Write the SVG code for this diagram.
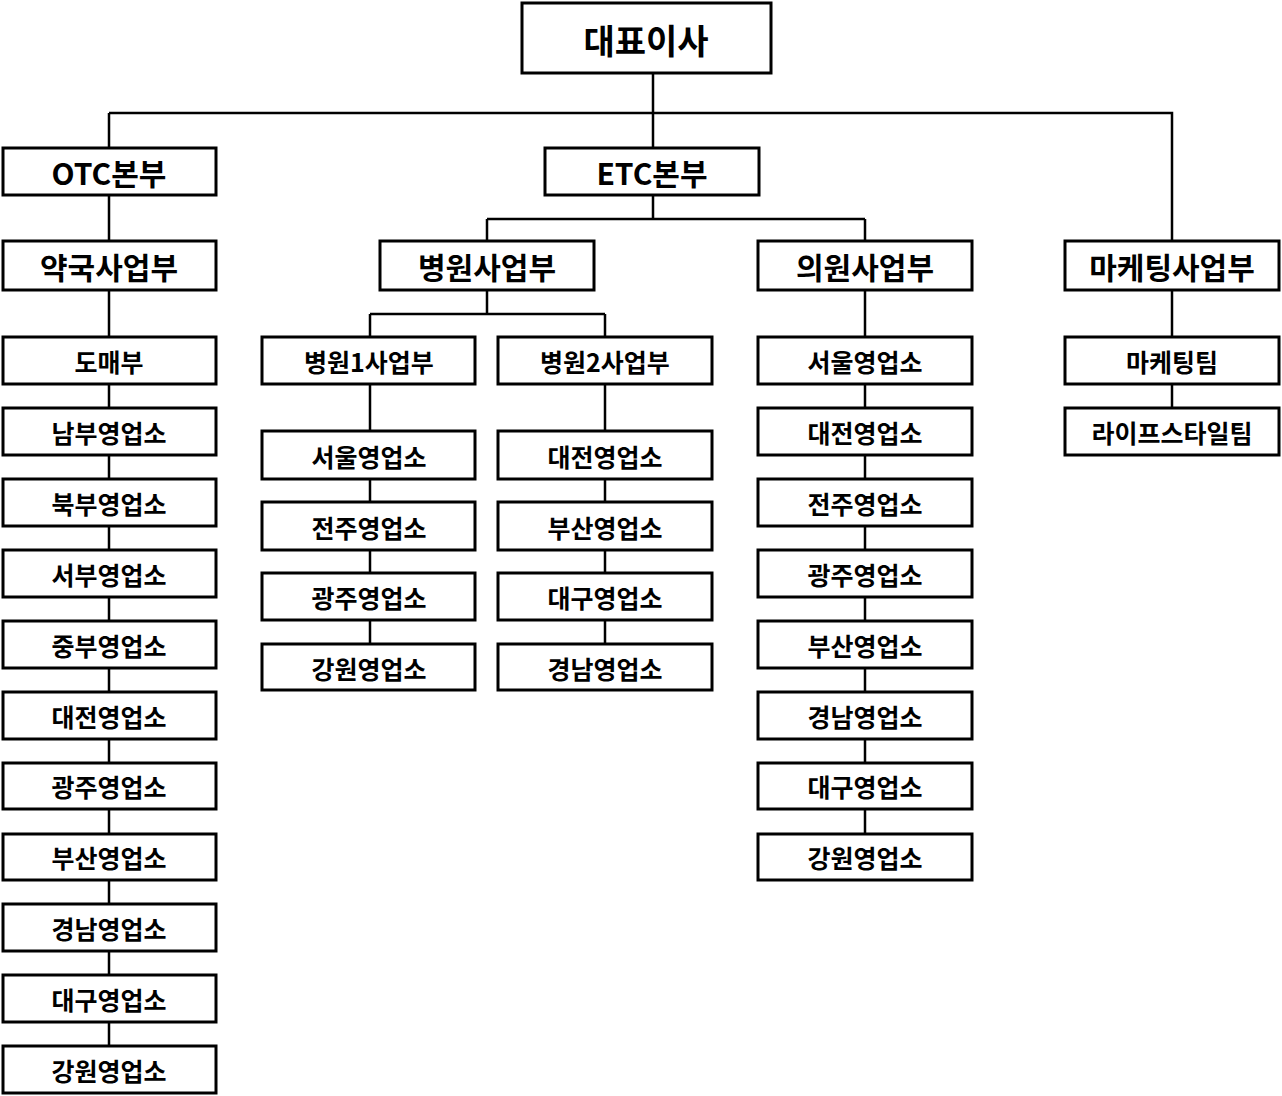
<svg xmlns="http://www.w3.org/2000/svg" width="1282" height="1096" viewBox="0 0 1282 1096">
<style>
rect{fill:#fff;stroke:#000;stroke-width:3}
text{font-family:"Noto Sans CJK KR","Noto Sans",sans-serif;font-weight:bold;text-anchor:middle;dominant-baseline:central;fill:#000}
.l{font-size:34px}.m{font-size:30px}.s{font-size:25px}
#c path{fill:none;stroke:#000;stroke-width:2.5}
</style>
<rect width="1282" height="1096" style="fill:#fff;stroke:none"/>
<g id="c">
<path d="M653 73V148M109 113H1172V241M109 113V148M109 195V241M109 290V1046"/>
<path d="M653 195V219M487 219H865M487 219V241M865 219V241M865 290V834"/>
<path d="M487 290V314M370 314H605M370 314V337M605 314V337M370 384V644M605 384V644"/>
<path d="M1172 290V408"/>
</g>
<g id="n0"><rect x="522" y="3" width="249" height="70"/><text class="l" x="646" y="39">대표이사</text></g>
<g id="n1"><rect x="3" y="148" width="213" height="47"/><text class="m" x="109" y="172">OTC본부</text></g>
<g id="n2"><rect x="545" y="148" width="214" height="47"/><text class="m" x="652" y="172">ETC본부</text></g>
<g id="n3"><rect x="3" y="241" width="213" height="49"/><text class="m" x="109" y="266">약국사업부</text></g>
<g id="n4"><rect x="380" y="241" width="214" height="49"/><text class="m" x="487" y="266">병원사업부</text></g>
<g id="n5"><rect x="758" y="241" width="214" height="49"/><text class="m" x="865" y="266">의원사업부</text></g>
<g id="n6"><rect x="1065" y="241" width="214" height="49"/><text class="m" x="1172" y="266">마케팅사업부</text></g>
<g id="n7"><rect x="262" y="337" width="213" height="47"/><text class="s" x="369" y="361">병원1사업부</text></g>
<g id="n8"><rect x="498" y="337" width="214" height="47"/><text class="s" x="605" y="361">병원2사업부</text></g>
<g id="o0"><rect x="3" y="337" width="213" height="47"/><text class="s" x="109" y="361">도매부</text></g>
<g id="o1"><rect x="3" y="408" width="213" height="47"/><text class="s" x="109" y="432">남부영업소</text></g>
<g id="o2"><rect x="3" y="479" width="213" height="47"/><text class="s" x="109" y="503">북부영업소</text></g>
<g id="o3"><rect x="3" y="550" width="213" height="47"/><text class="s" x="109" y="574">서부영업소</text></g>
<g id="o4"><rect x="3" y="621" width="213" height="47"/><text class="s" x="109" y="645">중부영업소</text></g>
<g id="o5"><rect x="3" y="692" width="213" height="47"/><text class="s" x="109" y="716">대전영업소</text></g>
<g id="o6"><rect x="3" y="763" width="213" height="46"/><text class="s" x="109" y="786">광주영업소</text></g>
<g id="o7"><rect x="3" y="834" width="213" height="46"/><text class="s" x="109" y="857">부산영업소</text></g>
<g id="o8"><rect x="3" y="904" width="213" height="47"/><text class="s" x="109" y="928">경남영업소</text></g>
<g id="o9"><rect x="3" y="975" width="213" height="47"/><text class="s" x="109" y="999">대구영업소</text></g>
<g id="o10"><rect x="3" y="1046" width="213" height="47"/><text class="s" x="109" y="1070">강원영업소</text></g>
<g id="h1"><rect x="262" y="431" width="213" height="48"/><text class="s" x="369" y="456">서울영업소</text></g>
<g id="h2"><rect x="262" y="502" width="213" height="48"/><text class="s" x="369" y="527">전주영업소</text></g>
<g id="h3"><rect x="262" y="573" width="213" height="47"/><text class="s" x="369" y="597">광주영업소</text></g>
<g id="h4"><rect x="262" y="644" width="213" height="46"/><text class="s" x="369" y="668">강원영업소</text></g>
<g id="k1"><rect x="498" y="431" width="214" height="48"/><text class="s" x="605" y="456">대전영업소</text></g>
<g id="k2"><rect x="498" y="502" width="214" height="48"/><text class="s" x="605" y="527">부산영업소</text></g>
<g id="k3"><rect x="498" y="573" width="214" height="47"/><text class="s" x="605" y="597">대구영업소</text></g>
<g id="k4"><rect x="498" y="644" width="214" height="46"/><text class="s" x="605" y="668">경남영업소</text></g>
<g id="e1"><rect x="758" y="337" width="214" height="47"/><text class="s" x="865" y="361">서울영업소</text></g>
<g id="e2"><rect x="758" y="408" width="214" height="47"/><text class="s" x="865" y="432">대전영업소</text></g>
<g id="e3"><rect x="758" y="479" width="214" height="47"/><text class="s" x="865" y="503">전주영업소</text></g>
<g id="e4"><rect x="758" y="550" width="214" height="47"/><text class="s" x="865" y="574">광주영업소</text></g>
<g id="e5"><rect x="758" y="621" width="214" height="47"/><text class="s" x="865" y="645">부산영업소</text></g>
<g id="e6"><rect x="758" y="692" width="214" height="47"/><text class="s" x="865" y="716">경남영업소</text></g>
<g id="e7"><rect x="758" y="763" width="214" height="46"/><text class="s" x="865" y="786">대구영업소</text></g>
<g id="e8"><rect x="758" y="834" width="214" height="46"/><text class="s" x="865" y="857">강원영업소</text></g>
<g id="m1"><rect x="1065" y="337" width="214" height="47"/><text class="s" x="1172" y="361">마케팅팀</text></g>
<g id="m2"><rect x="1065" y="408" width="214" height="47"/><text class="s" x="1172" y="432">라이프스타일팀</text></g>
</svg>
